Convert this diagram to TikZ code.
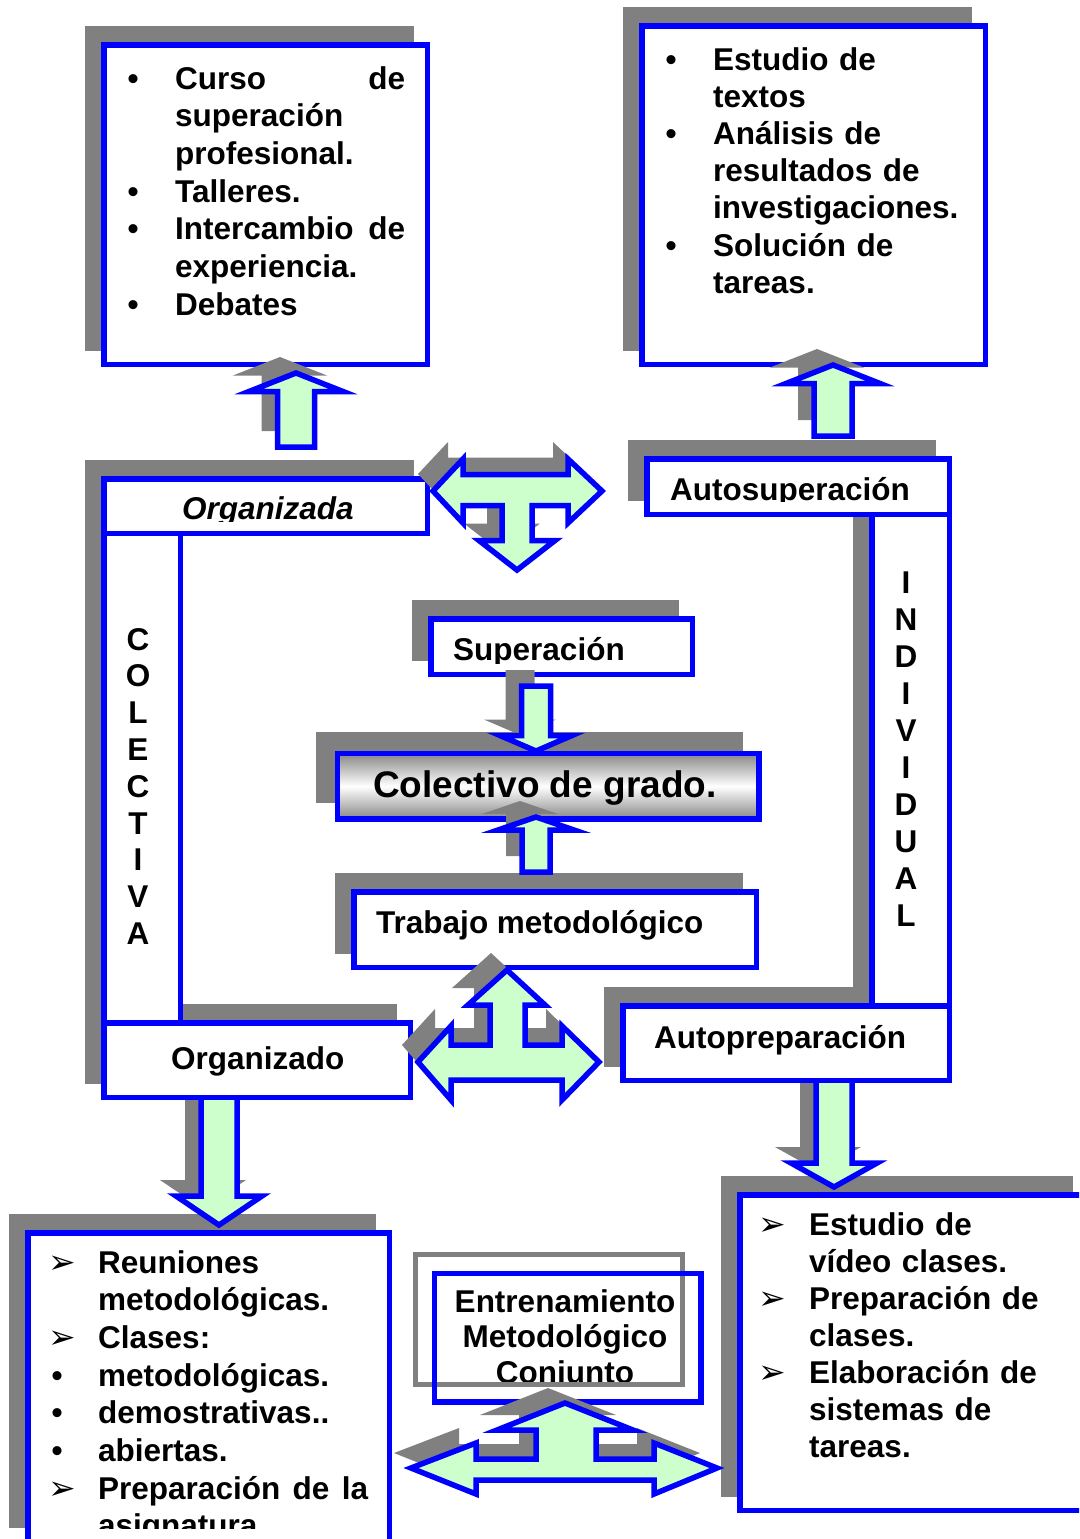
\documentclass[tikz,border=0pt]{standalone}
\usepackage{fontspec}
\setmainfont{Liberation Sans}
\newfontfamily\dvfont{DejaVu Sans}
\definecolor{bl}{RGB}{0,0,255}
\definecolor{lg}{RGB}{204,255,204}
\definecolor{sh}{RGB}{128,128,128}
\definecolor{gs}{RGB}{135,135,135}
\tikzset{
  bx/.style={draw=bl, line width=5.5pt, fill=white, inner sep=0pt, outer sep=0pt},
  shd/.style={fill=sh},
  barrow/.style={draw=bl, line width=5.5pt, fill=lg, line join=miter, miter limit=10},
  lst/.style={inner sep=0pt, align=left, anchor=base west, font=\fontsize{31.5}{#1}\selectfont\bfseries},
  lbl/.style={inner sep=0pt, anchor=base west, font=\fontsize{31.5}{37}\selectfont\bfseries},
  vtxt/.style={inner sep=0pt, align=center, anchor=base, text width=40pt, font=\fontsize{31.5}{#1}\selectfont\bfseries},
}
\newcommand\mybox[6][]{\node[bx,#1,minimum width={#5-#3},minimum height={#6-#4},anchor=north west] (#2) at (#3,#4) {};}
\newcommand\boxshadow[4]{\fill[shd] ({#1-18.75},{#2-18.75}) rectangle ({#3-13.25},{#4-13.25});}
\newcommand\bul[1]{\leavevmode\llap{\makebox[20pt][c]{\textbullet}\hspace{#1pt}}}
\newcommand\arr[1]{\leavevmode\llap{\makebox[20pt][c]{\dvfont\fontsize{33}{33}\selectfont ➢}\hspace{#1pt}}}
\newcommand\vpoly[7][]{\path[#1] (#2,#3) -- ({#2+#5},#4) -- ({#2+#6},#4) -- ({#2+#6},#7) -- ({#2-#6},#7) -- ({#2-#6},#4) -- ({#2-#5},#4) -- cycle;}
\newcommand\varrow[6]{\vpoly[shd,shift={(-16,-16)}]{#1}{#2}{#3}{#4}{#5}{#6}\vpoly[barrow]{#1}{#2}{#3}{#4}{#5}{#6}}
\def\tapath{(433,491) -- (463,459) -- (463,474.5) -- (568,474.5) -- (568,459) -- (602,491) -- (568,523) -- (568,505.5) -- (532,505.5) -- (532,540.5) -- (555,540.5) -- (517,570) -- (479,540.5) -- (502,540.5) -- (502,505.5) -- (463,505.5) -- (463,523) -- cycle}
\def\tbpath{(507,970) -- (545,1005) -- (525,1005) -- (525,1045) -- (562,1045) -- (562,1026) -- (599,1062) -- (562,1100) -- (562,1080) -- (451,1080) -- (451,1100) -- (418,1062) -- (451,1026) -- (451,1045) -- (490,1045) -- (490,1005) -- (468,1005) -- cycle}
\def\tcpath{(565,1403) -- (633,1430) -- (596,1430) -- (596,1459) -- (654,1459) -- (654,1443) -- (717,1468) -- (654,1494) -- (654,1480) -- (476,1480) -- (476,1494) -- (411,1468) -- (476,1443) -- (476,1459) -- (536,1459) -- (536,1430) -- (497,1430) -- cycle}
\begin{document}
\begin{tikzpicture}[x=1pt,y=-1pt]
\useasboundingbox (0,0) rectangle (1079,1539);
\clip (0,0) rectangle (1079,1539);

% ---------- bottom boxes ----------
\fill[shd] (9,1214) rectangle (376,1528);
\mybox{b3}{27.75}{1232.75}{389.25}{1546}
\begin{scope}
\clip (30,1235) rectangle (387,1528);
\node[lst=37.7, text width=270pt] (b3t) at (98,1273) {\arr{26}Reuniones\\ metodológicas.\\ \arr{26}Clases:\\ \bul{31}metodológicas.\\ \bul{31}demostrativas..\\ \bul{31}abiertas.\\ \arr{26}Preparación\hfill de\hfill la\\ asignatura};
\end{scope}

\boxshadow{739.75}{1194.75}{1086}{1510.25}
\mybox{b4}{739.75}{1194.75}{1086}{1510.25}
\node[lst=37.0, text width=265pt] (b4t) at (809,1235) {\arr{27}Estudio de\\ vídeo clases.\\ \arr{27}Preparación de\\ clases.\\ \arr{27}Elaboración de\\ sistemas de\\ tareas.};

% arrows lying under their source boxes
\varrow{219}{1225}{1196}{43}{18}{1097}
\varrow{834}{1187}{1163}{43}{18}{1080}

% ---------- top boxes ----------
\boxshadow{103.75}{44.75}{427.25}{364.25}
\mybox{b1}{103.75}{44.75}{427.25}{364.25}
\node[lst=37.7, text width=230pt] (b1t) at (175,89) {\bul{32}Curso\hfill de\\ superación\\ profesional.\\ \bul{32}Talleres.\\ \bul{32}Intercambio\hfill de\\ experiencia.\\ \bul{32}Debates};

\boxshadow{641.75}{25.75}{985.25}{364.25}
\mybox{b2}{641.75}{25.75}{985.25}{364.25}
\node[lst=37.2, text width=265pt] (b2t) at (713,70) {\bul{32}Estudio de\\ textos\\ \bul{32}Análisis de\\ resultados de\\ investigaciones.\\ \bul{32}Solución de\\ tareas.};

% ---------- left frame (colectiva) ----------
\boxshadow{103.75}{478.75}{427.25}{533.25}
\boxshadow{103.75}{533.25}{180.25}{1022.75}
\boxshadow{103.75}{1022.75}{410.25}{1097.25}
\mybox{orga}{103.75}{478.75}{427.25}{533.25}
\mybox{colv}{103.75}{533.25}{180.25}{1022.75}
\mybox{orgo}{103.75}{1022.75}{410.25}{1097.25}
\begin{scope}
\clip (110,485) rectangle (420,521.5);
\node[inner sep=0pt, anchor=base west, font=\fontsize{31.5}{37}\selectfont\bfseries\itshape] (orgat) at (182,519.4) {Organizada};
\end{scope}
\node[vtxt=36.8] (colt) at (138,650) {C\\O\\L\\E\\C\\T\\I\\V\\A};
\node[lbl] (orgot) at (171,1069) {Organizado};

% ---------- right frame (individual) ----------
\boxshadow{646.75}{458.75}{949.25}{514.25}
\boxshadow{871.75}{514.25}{949.25}{1005.75}
\boxshadow{622.75}{1005.75}{949.25}{1080.25}
\mybox{asup}{646.75}{458.75}{949.25}{514.25}
\mybox{indv}{871.75}{514.25}{949.25}{1005.75}
\mybox{aprep}{622.75}{1005.75}{949.25}{1080.25}
\begin{scope}
\clip (652,465) rectangle (944,501.5);
\node[lbl] (asupt) at (670,500) {Autosuperación};
\end{scope}
\node[vtxt=37.0] (indt) at (906,593.8) {I\\N\\D\\I\\V\\I\\D\\U\\A\\L};
\node[lbl] (aprept) at (654,1048) {Autopreparación};

% ---------- centre ----------
\boxshadow{430.75}{618.75}{692.25}{674.25}
\mybox{sup}{430.75}{618.75}{692.25}{674.25}
\begin{scope}
\clip (436,624) rectangle (688,663);
\node[lbl] (supt) at (453,660) {Superación};
\end{scope}

\boxshadow{334.75}{750.75}{756.25}{816.25}
\node[draw=bl, line width=5.5pt, top color=gs, bottom color=gs, middle color=white, inner sep=0pt, minimum width=421.5, minimum height=65.5, anchor=north west] (col) at (334.75,750.75) {};
\node[inner sep=0pt, anchor=base west, font=\fontsize{37}{44}\selectfont\bfseries] (colt2) at (373,797) {Colectivo de grado.};

\boxshadow{353.75}{891.75}{756.25}{967.25}
\mybox{trab}{353.75}{891.75}{756.25}{967.25}
\node[lbl] (trabt) at (376,933) {Trabajo metodológico};

% ---------- entrenamiento ----------
\begin{scope}
\clip (420,1260) rectangle (700,1386);
\node[inner sep=0pt, anchor=base, align=center, text width=280pt, font=\fontsize{31.5}{35.5}\selectfont\bfseries] (emt) at (565,1312) {Entrenamiento\\Metodológico\\Conjunto};
\end{scope}
\draw[sh, line width=5pt] (415.5,1254.5) rectangle (682.5,1384.5);
\node[draw=bl, line width=5.5pt, inner sep=0pt, minimum width=266.5, minimum height=128.5, anchor=north west] (emc) at (431.75,1270.75) {};

% ---------- block arrows ----------
\varrow{296}{373}{391.5}{47}{18.5}{447}
\varrow{833}{365}{383.5}{47}{19}{436}
\varrow{536}{751}{735.5}{36}{14.5}{686}
\varrow{536}{817}{830}{38}{14}{872}

\fill[shd, shift={(-15,-17)}] \tapath;
\draw[barrow] \tapath;
\fill[shd, shift={(-16,-17)}] \tbpath;
\draw[barrow] \tbpath;
\fill[shd, shift={(-17,-15)}] \tcpath;
\draw[barrow] \tcpath;
\end{tikzpicture}
\end{document}
